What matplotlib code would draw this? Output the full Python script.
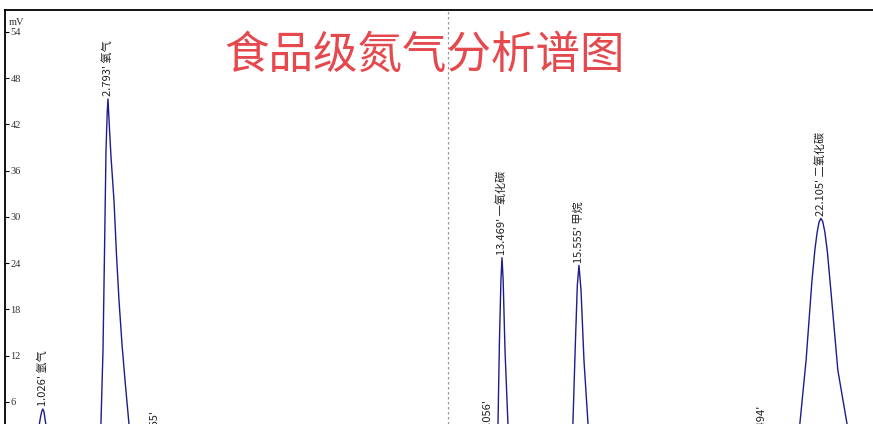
import matplotlib
matplotlib.use("Agg")
import matplotlib.pyplot as plt

# ---- data ----
trace_time = [0.0, 0.7, 0.85, 0.92, 0.97, 1.0, 1.026, 1.055, 1.09, 1.14, 1.22, 1.35,
              2.45, 2.55, 2.60, 2.656, 2.697, 2.737, 2.77, 2.791, 2.82, 2.87, 2.954, 3.02, 3.089,
              3.17, 3.252, 3.36, 3.5, 3.7,
              3.95, 4.065, 4.18,
              12.95, 13.056, 13.16, 13.3, 13.36, 13.40, 13.44, 13.469, 13.50, 13.55, 13.63, 13.72,
              15.3, 15.39, 15.46, 15.51, 15.555, 15.61, 15.69, 15.80, 15.92,
              20.38, 20.494, 20.61,
              21.35, 21.54, 21.71, 21.87, 21.95, 22.01, 22.06, 22.11, 22.16, 22.22, 22.29,
              22.38, 22.57, 22.82, 23.05, 23.6]
trace_mv = [0.2, 0.3, 1.4, 2.8, 4.2, 4.8, 5.05, 4.7, 3.6, 2.0, 0.8, 0.3,
            0.3, 1.2, 3.1, 12.7, 25.6, 38.6, 43.6, 45.3, 42.5, 38.0, 32.1, 25.2, 19.2,
            13.5, 8.8, 3.1, 1.2, 0.4,
            0.3, 0.6, 0.3,
            0.3, 1.2, 0.4, 0.6, 3.1, 14.0, 21.8, 24.7, 21.8, 12.7, 3.1, 0.5,
            0.5, 3.1, 14.0, 21.1, 23.7, 20.5, 11.4, 3.1, 0.5,
            0.3, 0.4, 0.3,
            0.5, 3.1, 11.4, 21.8, 25.8, 28.0, 29.3, 29.8, 29.4, 28.0, 25.3,
            20.5, 10.1, 3.1, 0.5, 0.2]

peak_times = [1.026, 2.793, 4.065, 13.056, 13.469, 15.555, 20.494, 22.105]
peak_heights = [5.05, 45.3, 0.6, 1.2, 24.7, 23.7, 0.4, 29.8]
peak_labels = ["1.026' 氩气", "2.793' 氧气", "4.065'", "13.056'",
               "13.469' 一氧化碳", "15.555' 甲烷", "20.494'", "22.105' 二氧化碳"]

y_ticks = [6, 12, 18, 24, 30, 36, 42, 48, 54]
title = "食品级氮气分析谱图"
unit = "mV"
marker_time = 12.0

# ---- figure ----
W, H = 873, 424
fig = plt.figure(figsize=(W / 100, H / 100), dpi=100)
fig.patch.set_facecolor("white")
ax = fig.add_axes([5 / W, 0.0, (W - 5) / W, 1 - 10 / H])
ax.set_facecolor("white")

ax.plot(trace_time, trace_mv, color="#1c1c8a", lw=1.0)
ax.axvline(marker_time, color="#9a9a9a", lw=0.9, ls=(0, (2, 2)))

ax.set_xlim(0, (W - 5) / 36.9)
ax.set_ylim((448 - 424) / 7.72, 54 + (32 - 10) / 7.72)

for s in ["right", "bottom"]:
    ax.spines[s].set_visible(False)
for s in ["left", "top"]:
    ax.spines[s].set_linewidth(1.3)
    ax.spines[s].set_color("black")

ax.set_xticks([])
ax.set_yticks(y_ticks)
ax.tick_params(axis="y", direction="in", length=3, width=0.8, pad=-4,
               labelsize=7.5, labelcolor="#333333")
for lbl in ax.get_yticklabels():
    lbl.set_horizontalalignment("left")
    lbl.set_family("Liberation Serif")

ax.text(0.004, 0.98, unit, transform=ax.transAxes, fontsize=7.5,
        family="Liberation Serif", color="#333333", va="top", ha="left")

cjk = ["Noto Sans CJK SC", "DejaVu Sans"]
for t, h, lab in zip(peak_times, peak_heights, peak_labels):
    ax.annotate(lab, xy=(t, h), xytext=(0, 2), textcoords="offset points",
                rotation=90, ha="center", va="bottom", fontsize=8,
                family=cjk, color="#222222", annotation_clip=False)

fig.text(425 / W, 1 - 55 / H, title, fontsize=32, color="#e5484d",
         family=cjk, ha="center", va="center")

fig.savefig("out.png", dpi=100, facecolor="white")
